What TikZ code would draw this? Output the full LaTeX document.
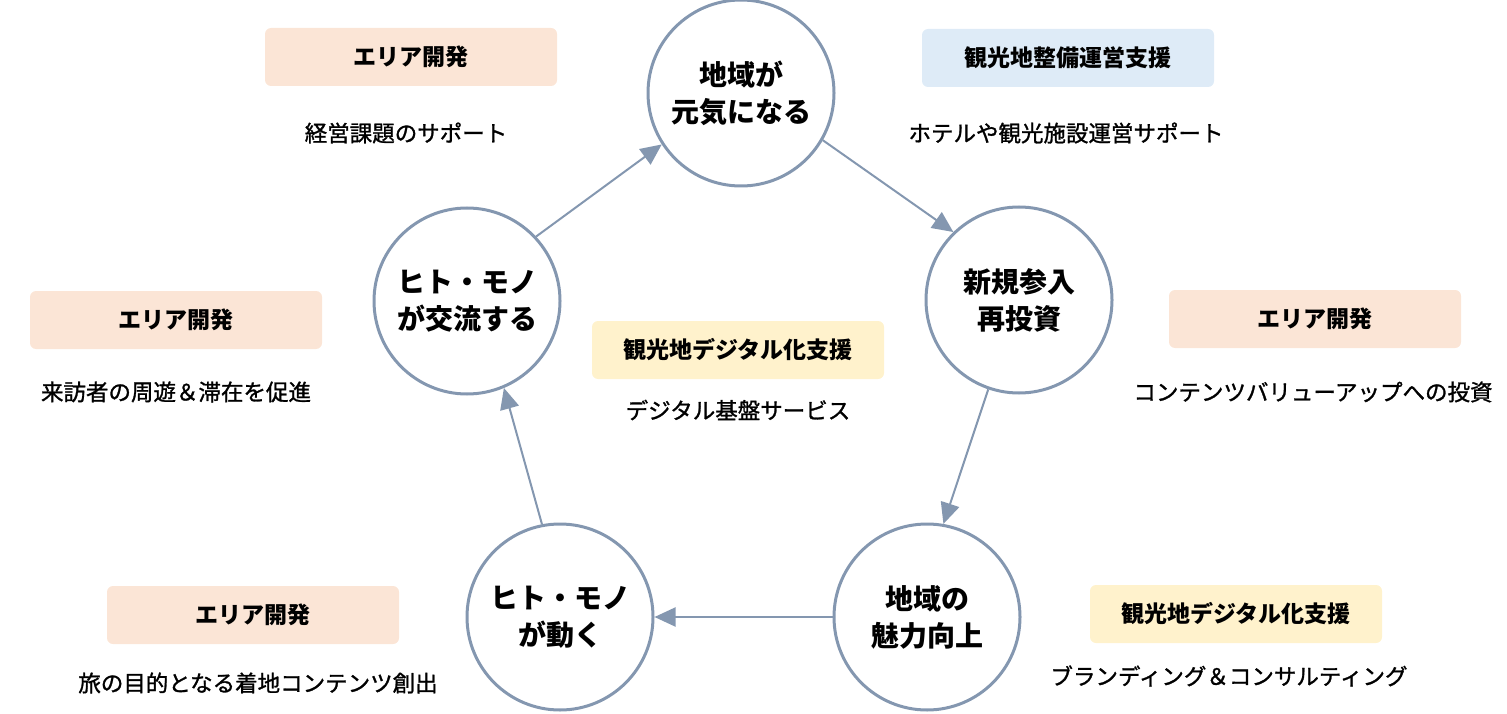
\documentclass[tikz,border=0pt]{standalone}
\usepackage{fontspec}
\setmainfont{Noto Sans CJK JP}
\newfontfamily\notefont{Noto Sans CJK JP}[FakeBold=1.2]
\usetikzlibrary{arrows.meta, positioning, calc}

\definecolor{ringblue}{RGB}{132,151,176}
\definecolor{areapeach}{RGB}{251,229,214}
\definecolor{opsblue}{RGB}{222,235,247}
\definecolor{digiyellow}{RGB}{255,242,204}

\begin{document}
\begin{tikzpicture}[
  x=1pt, y=-1pt,
  stage/.style={
    draw=ringblue,
    line width=3pt,
    circle,
    minimum size=186pt,
    inner sep=0pt,
    align=center,
    execute at begin node={\rule{0pt}{35pt}},
    font=\fontsize{28}{37}\selectfont\bfseries
  },
  flow/.style={draw=ringblue, line width=2pt, -{Triangle[length=21pt, width=19pt]}},
  tag/.style={
    rectangle,
    rounded corners=6pt,
    minimum width=292pt,
    minimum height=58pt,
    font=\fontsize{23}{27}\selectfont\bfseries
  },
  area/.style={tag, fill=areapeach},
  ops/.style={tag, fill=opsblue},
  digi/.style={tag, fill=digiyellow},
  note/.style={font=\fontsize{22.5}{27}\notefont}
]
  \useasboundingbox (0,0) rectangle (1507,714);

  % the five stages of the cycle
  \node[stage] (genki) at (741,93) {地域が\\元気になる};
  \node[stage] (toushi) at (1019,300) {新規参入\\再投資};
  \node[stage] (miryoku) at (927,617) {地域の\\魅力向上};
  \node[stage] (ugoku) at (560,617) {ヒト・モノ\\が動く};
  \node[stage] (kouryu) at (467,301) {ヒト・モノ\\が交流する};

  \draw[flow] (kouryu.43) -- (genki.213);
  \draw[flow] (genki.330) -- (toushi.134);
  \draw[flow] (toushi.251) -- (miryoku.80);
  \draw[flow] (miryoku.west) -- (ugoku.east);
  \draw[flow] (ugoku.101) -- (kouryu.293);

  % support labels round the cycle
  \node[area] (areaTL) at (411,57) {エリア開発};
  \node[note] at ($(areaTL)+(-5,76)$) {経営課題のサポート};

  \node[ops] (opsTR) at (1068,58) {観光地整備運営支援};
  \node[note] at ($(opsTR)+(-2,75)$) {ホテルや観光施設運営サポート};

  \node[digi] (digiC) at (738,350) {観光地デジタル化支援};
  \node[note] at ($(digiC)+(0,60)$) {デジタル基盤サービス};

  \node[area] (areaR) at (1315,319) {エリア開発};
  \node[note] at ($(areaR)+(-2,73)$) {コンテンツバリューアップへの投資};

  \node[area] (areaL) at (176,320) {エリア開発};
  \node[note] at ($(areaL)+(0,72)$) {来訪者の周遊＆滞在を促進};

  \node[area] (areaBL) at (253,615) {エリア開発};
  \node[note] at ($(areaBL)+(5,68)$) {旅の目的となる着地コンテンツ創出};

  \node[digi] (digiBR) at (1236,614) {観光地デジタル化支援};
  \node[note] at ($(digiBR)+(-7,62)$) {ブランディング＆コンサルティング};

\end{tikzpicture}
\end{document}
